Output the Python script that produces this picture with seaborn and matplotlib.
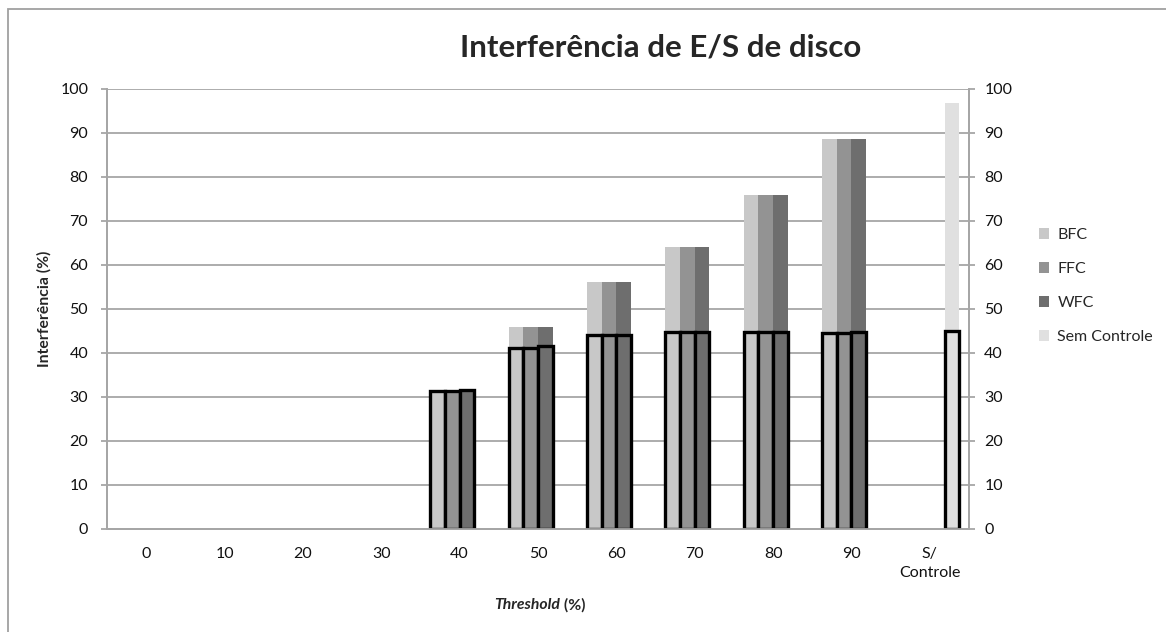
import matplotlib
matplotlib.use("Agg")
import matplotlib.pyplot as plt
from matplotlib.patches import Rectangle, Patch
import seaborn as sns
import pandas as pd

# Threshold categories on the x axis
categories = ["0", "10", "20", "30", "40", "50", "60", "70", "80", "90", "S/\nControle"]
series = ["BFC", "FFC", "WFC", "Sem Controle"]

# Total interference per policy (thresholds 40..90)
bar_cats = ["40", "50", "60", "70", "80", "90"]
bfc_total = [31.5, 46.0, 56.2, 64.2, 75.9, 88.6]
ffc_total = [31.5, 46.0, 56.2, 64.2, 75.9, 88.6]
wfc_total = [31.6, 46.0, 56.2, 64.2, 75.9, 88.6]
sem_total = [96.9]

# Interference of the controlled portion (outlined bars)
bfc_ctrl = [31.4, 41.2, 44.0, 44.7, 44.8, 44.6]
ffc_ctrl = [31.4, 41.2, 44.0, 44.7, 44.8, 44.6]
wfc_ctrl = [31.6, 41.5, 44.1, 44.8, 44.8, 44.7]
sem_ctrl = [45.0]

colors = {"BFC": "#c8c8c8", "FFC": "#939393", "WFC": "#6e6e6e", "Sem Controle": "#e0e0e0"}


def long_frame(bfc, ffc, wfc, sem):
    rows = []
    for name, vals in (("BFC", bfc), ("FFC", ffc), ("WFC", wfc)):
        for c, v in zip(bar_cats, vals):
            rows.append({"Threshold": c, "Serie": name, "Valor": v})
    for v in sem:
        rows.append({"Threshold": categories[-1], "Serie": "Sem Controle", "Valor": v})
    return pd.DataFrame(rows)


df_total = long_frame(bfc_total, ffc_total, wfc_total, sem_total)
df_ctrl = long_frame(bfc_ctrl, ffc_ctrl, wfc_ctrl, sem_ctrl)

sns.set_theme(style="white")
plt.rcParams["font.family"] = ["Lato", "DejaVu Sans"]

fig = plt.figure(figsize=(11.66, 6.32), dpi=100)
ax = fig.add_axes([107 / 1166, 1 - 529 / 632, (969 - 107) / 1166, (529 - 89) / 632])

grid_col = "#a6a6a6"
tick_fs = 11.5

sns.barplot(data=df_total, x="Threshold", y="Valor", hue="Serie", order=categories,
            hue_order=series, palette=colors, width=0.75, errorbar=None,
            linewidth=0, saturation=1, ax=ax, legend=False, zorder=2)

ax2 = ax.twinx()
sns.barplot(data=df_ctrl, x="Threshold", y="Valor", hue="Serie", order=categories,
            hue_order=series, palette=colors, width=0.75, errorbar=None,
            edgecolor="black", linewidth=2.4, saturation=1, ax=ax2, legend=False)

for a in (ax, ax2):
    a.set_ylim(0, 100)
    a.set_yticks(range(0, 101, 10))
    a.set_xlim(-0.5, len(categories) - 0.5)
    a.set_xlabel("")
    a.set_ylabel("")
    for s in a.spines.values():
        s.set_color(grid_col)
        s.set_linewidth(1.3)
    a.spines["top"].set_visible(False)

ax.yaxis.grid(True, color=grid_col, linewidth=1.3)
ax.set_axisbelow(True)
ax.tick_params(axis="y", direction="out", length=4.5, width=1.3, color=grid_col,
               labelsize=tick_fs, pad=9, left=True, labelcolor="#111111")
ax.tick_params(axis="x", length=0, labelsize=tick_fs, pad=13, labelcolor="#111111")
ax.set_xticks(range(len(categories)))
ax.set_xticklabels(categories, linespacing=1.45, va="top")
ax2.tick_params(axis="y", direction="out", length=4.5, width=1.3, color=grid_col,
                labelsize=tick_fs, pad=6.5, right=True, labelcolor="#111111")
ax2.tick_params(axis="x", length=0, labelbottom=False)

ax.set_ylabel("Interferência (%)", fontsize=11.3, fontweight="bold", labelpad=6)

# Title
fig.text(661 / 1166, 1 - 47 / 632, "Interferência de E/S de disco", ha="center",
         va="center", fontsize=22.5, fontweight="bold")

# X axis title: italic "Threshold" followed by "(%)"
fig.text(560 / 1166, 1 - 605 / 632, "Threshold", ha="right", va="center",
         fontsize=11.3, fontweight="bold", fontstyle="italic")
fig.text(560 / 1166, 1 - 605 / 632, " (%)", ha="left", va="center",
         fontsize=11.3, fontweight="bold")

handles = [Patch(facecolor=colors[s], edgecolor="none") for s in series]
fig.legend(handles, series, loc="center left", bbox_to_anchor=(1031 / 1166, 1 - 286 / 632),
           frameon=False, fontsize=11.5, handlelength=0.65, handleheight=0.65,
           handletextpad=0.5, labelspacing=1.25, borderpad=0)

# Chart area border
fig.patches.append(Rectangle((8 / 1166, -0.1), 1.2, 1 - 9 / 632 + 0.1,
                             transform=fig.transFigure, fill=False,
                             edgecolor="#a0a0a0", linewidth=1.3))

fig.savefig("out.png", dpi=100, facecolor="white")
